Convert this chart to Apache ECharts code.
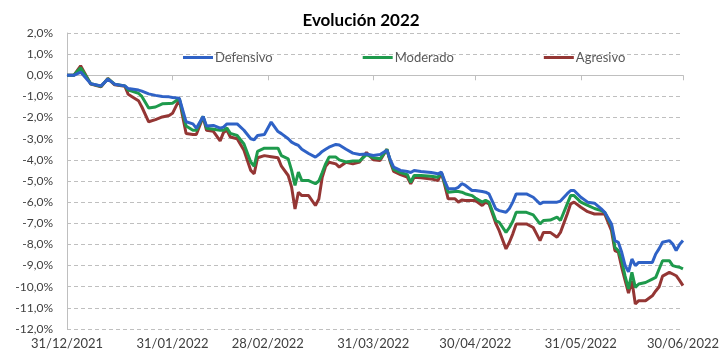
<!DOCTYPE html>
<html>
<head>
<meta charset="utf-8">
<script src="https://cdn.jsdelivr.net/npm/echarts@6/dist/echarts.min.js"></script>
<style>
html,body{margin:0;padding:0;background:#fff;}
#chart{width:722px;height:356px;}
</style>
</head>
<body>
<div id="chart"></div>
<script>
// Tick labels shown on the date axis (month ends)
const tickLabels = ['31/12/2021','31/01/2022','28/02/2022','31/03/2022','30/04/2022','31/05/2022','30/06/2022'];
const seriesNames = ['Defensivo','Moderado','Agresivo'];

// Observation dates, as days elapsed since 31/12/2021
const dayOffsets = [0,2,4,7,10,12,14,17,18,19,21,22,24,26,28,30,31,33,35,37,38,40,41,43,45,46,47,48,50,52,54,55,56,58,60,62,63,65,66,67,68,69,71,73,74,75,76,77,79,80,82,84,86,88,90,92,94,95,96,98,100,101,102,104,107,109,110,111,112,114,115,116,117,119,120,122,123,124,126,127,129,130,131,132,135,137,139,140,142,144,145,147,148,149,151,153,155,157,158,160,161,162,163,164,165,166,167,168,170,172,173,174,175,177,178,179,180,181];

const defensivo = [0,0,0.15,-0.4,-0.5,-0.18,-0.42,-0.5,-0.63,-0.65,-0.7,-0.75,-0.88,-0.95,-1.0,-1.02,-1.05,-1.08,-2.2,-2.3,-2.5,-1.95,-2.4,-2.37,-2.5,-2.45,-2.3,-2.3,-2.3,-2.6,-3.0,-3.05,-2.85,-2.8,-2.21,-2.66,-2.76,-3.0,-3.16,-3.25,-3.32,-3.5,-3.7,-3.87,-3.75,-3.6,-3.5,-3.4,-3.27,-3.3,-3.5,-3.68,-3.75,-3.72,-3.79,-3.75,-3.55,-4.0,-4.34,-4.5,-4.55,-4.6,-4.5,-4.55,-4.6,-4.66,-4.58,-5.0,-5.37,-5.37,-5.3,-5.13,-5.2,-5.45,-5.45,-5.5,-5.53,-5.61,-6.32,-6.4,-6.48,-6.3,-6.0,-5.61,-5.61,-5.77,-6.08,-6.0,-6.0,-6.0,-5.95,-5.6,-5.45,-5.45,-5.77,-6.0,-6.05,-6.32,-6.48,-7.03,-7.82,-7.9,-8.37,-9.0,-9.3,-8.69,-9.0,-8.85,-8.85,-8.85,-8.45,-8.2,-7.9,-7.82,-7.98,-8.29,-8.0,-7.82];

const moderado = [0,0,0.35,-0.4,-0.52,-0.16,-0.42,-0.5,-0.7,-0.75,-0.85,-1.0,-1.55,-1.5,-1.35,-1.33,-1.32,-1.1,-2.4,-2.6,-2.6,-1.95,-2.5,-2.55,-2.6,-2.6,-2.5,-2.75,-2.85,-3.25,-4.1,-4.3,-3.6,-3.45,-3.45,-3.45,-3.8,-3.95,-4.5,-5.21,-4.58,-4.98,-4.98,-5.13,-5.0,-4.6,-4.19,-3.87,-3.87,-4.0,-4.1,-4.05,-4.05,-3.75,-3.9,-3.95,-3.5,-4.05,-4.45,-4.6,-4.7,-5.06,-4.74,-4.74,-4.78,-4.82,-4.6,-5.1,-5.53,-5.5,-5.5,-5.53,-5.6,-5.69,-5.8,-6.0,-5.92,-6.0,-6.87,-6.95,-7.43,-7.2,-6.9,-6.48,-6.48,-6.6,-7.03,-6.87,-6.85,-6.71,-6.87,-6.08,-5.69,-5.69,-6.0,-6.15,-6.3,-6.4,-6.48,-7.11,-8.14,-8.29,-8.77,-9.5,-10.1,-9.32,-10.03,-9.87,-9.8,-9.64,-9.56,-9.16,-8.77,-8.77,-9.0,-9.05,-9.08,-9.16];

const agresivo = [0,0,0.45,-0.42,-0.55,-0.15,-0.45,-0.52,-0.9,-1.0,-1.2,-1.5,-2.2,-2.1,-1.97,-1.9,-1.8,-1.15,-2.75,-2.8,-2.8,-1.97,-2.6,-2.65,-3.1,-2.7,-2.6,-2.92,-3.0,-3.55,-4.5,-4.66,-3.9,-3.8,-3.85,-3.9,-4.3,-4.74,-5.29,-6.32,-5.53,-5.69,-5.69,-6.16,-5.85,-4.82,-4.3,-4.11,-4.19,-4.34,-4.11,-4.19,-4.1,-3.65,-4.0,-4.03,-3.5,-4.1,-4.55,-4.7,-4.82,-5.13,-4.82,-4.85,-4.9,-4.98,-4.6,-5.2,-5.84,-5.84,-6.0,-5.9,-5.92,-5.92,-5.92,-6.16,-6.0,-6.08,-7.0,-7.35,-8.21,-7.9,-7.5,-7.03,-7.03,-7.2,-7.82,-7.43,-7.43,-7.66,-7.43,-6.56,-6.08,-6.0,-6.24,-6.45,-6.56,-6.56,-6.56,-7.35,-8.29,-8.37,-9.08,-9.7,-10.3,-9.72,-10.82,-10.66,-10.66,-10.43,-10.2,-10.0,-9.5,-9.32,-9.4,-9.48,-9.7,-9.95];

// Daily calendar categories from 31/12/2021 to 30/06/2022
function fmt(d){
  const dd = String(d.getUTCDate()).padStart(2,'0');
  const mm = String(d.getUTCMonth()+1).padStart(2,'0');
  return dd + '/' + mm + '/' + d.getUTCFullYear();
}
const startMs = Date.UTC(2021, 11, 31);
const endMs = Date.UTC(2022, 5, 30);
const categories = [];
for (let t = startMs; t <= endMs; t += 86400000) categories.push(fmt(new Date(t)));

const tickSet = new Set(tickLabels);
const showTick = (idx, val) => tickSet.has(val);
const pairs = vals => dayOffsets.map((d, i) => [categories[d], vals[i]]);

const FONT = 'Lato, "Liberation Sans", sans-serif';
const colors = ['#2F62C6', '#1E9A4C', '#943634'];

const chart = echarts.init(document.getElementById('chart'), null, {renderer: 'canvas'});
chart.setOption({
  animation: false,
  backgroundColor: '#ffffff',
  color: colors,
  textStyle: {fontFamily: FONT},
  title: {
    text: 'Evolución 2022',
    left: 'center',
    top: 7,
    textStyle: {fontFamily: FONT, fontSize: 17, fontWeight: 'bold', color: '#000000'}
  },
  legend: {
    left: 178,
    top: 46,
    icon: 'rect',
    itemWidth: 30,
    itemHeight: 3,
    itemGap: 90,
    textStyle: {fontFamily: FONT, fontSize: 13, color: '#595959', padding: [0,0,0,-3]},
    data: seriesNames
  },
  grid: {left: 67, right: 34, top: 33, bottom: 27, containLabel: false},
  xAxis: {
    type: 'category',
    data: categories,
    boundaryGap: false,
    axisLine: {lineStyle: {color: '#BFBFBF', width: 1}},
    axisTick: {show: true, interval: showTick, length: 5, lineStyle: {color: '#BFBFBF'}},
    axisLabel: {interval: showTick, color: '#404040', fontSize: 13, fontFamily: FONT, margin: 8},
    splitLine: {show: false}
  },
  yAxis: {
    type: 'value',
    min: -12,
    max: 2,
    interval: 1,
    axisLine: {show: true, lineStyle: {color: '#BFBFBF', width: 1}},
    axisTick: {show: false},
    axisLabel: {
      color: '#404040', fontSize: 12, fontFamily: FONT, margin: 14,
      formatter: v => v.toFixed(1).replace('.', ',') + '%'
    },
    splitLine: {show: true, lineStyle: {color: '#BFBFBF', type: [4, 3], width: 1}}
  },
  series: [
    {name: seriesNames[0], type: 'line', data: pairs(defensivo), symbol: 'none', lineStyle: {width: 3}, z: 3},
    {name: seriesNames[1], type: 'line', data: pairs(moderado), symbol: 'none', lineStyle: {width: 3}, z: 2},
    {name: seriesNames[2], type: 'line', data: pairs(agresivo), symbol: 'none', lineStyle: {width: 3}, z: 1}
  ]
});
</script>
</body>
</html>
